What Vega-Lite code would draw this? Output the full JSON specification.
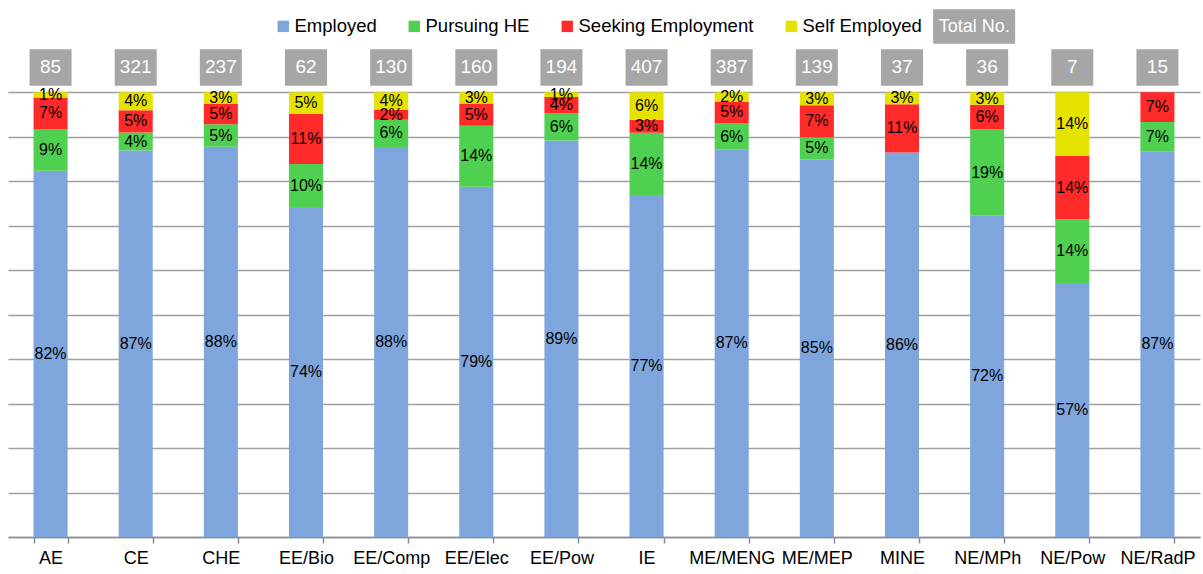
{
  "$schema": "https://vega.github.io/schema/vega-lite/v6.json",
  "width": 1192,
  "height": 498,
  "autosize": {"type": "none"},
  "padding": {"left": 8, "top": 39, "right": 3, "bottom": 37},
  "background": "white",
  "config": {"view": {"stroke": null}, "font": "Liberation Sans"},
  "datasets": {
    "rows": [
      {"program": "AE", "status": "Employed", "count": 70, "pct": 0.82},
      {"program": "AE", "status": "Pursuing HE", "count": 8, "pct": 0.09},
      {"program": "AE", "status": "Seeking Employment", "count": 6, "pct": 0.07},
      {"program": "AE", "status": "Self Employed", "count": 1, "pct": 0.01},
      {"program": "CE", "status": "Employed", "count": 279, "pct": 0.87},
      {"program": "CE", "status": "Pursuing HE", "count": 13, "pct": 0.04},
      {"program": "CE", "status": "Seeking Employment", "count": 16, "pct": 0.05},
      {"program": "CE", "status": "Self Employed", "count": 13, "pct": 0.04},
      {"program": "CHE", "status": "Employed", "count": 208, "pct": 0.88},
      {"program": "CHE", "status": "Pursuing HE", "count": 12, "pct": 0.05},
      {"program": "CHE", "status": "Seeking Employment", "count": 11, "pct": 0.05},
      {"program": "CHE", "status": "Self Employed", "count": 6, "pct": 0.03},
      {"program": "EE/Bio", "status": "Employed", "count": 46, "pct": 0.74},
      {"program": "EE/Bio", "status": "Pursuing HE", "count": 6, "pct": 0.10},
      {"program": "EE/Bio", "status": "Seeking Employment", "count": 7, "pct": 0.11},
      {"program": "EE/Bio", "status": "Self Employed", "count": 3, "pct": 0.05},
      {"program": "EE/Comp", "status": "Employed", "count": 114, "pct": 0.88},
      {"program": "EE/Comp", "status": "Pursuing HE", "count": 8, "pct": 0.06},
      {"program": "EE/Comp", "status": "Seeking Employment", "count": 3, "pct": 0.02},
      {"program": "EE/Comp", "status": "Self Employed", "count": 5, "pct": 0.04},
      {"program": "EE/Elec", "status": "Employed", "count": 126, "pct": 0.79},
      {"program": "EE/Elec", "status": "Pursuing HE", "count": 22, "pct": 0.14},
      {"program": "EE/Elec", "status": "Seeking Employment", "count": 8, "pct": 0.05},
      {"program": "EE/Elec", "status": "Self Employed", "count": 4, "pct": 0.03},
      {"program": "EE/Pow", "status": "Employed", "count": 173, "pct": 0.89},
      {"program": "EE/Pow", "status": "Pursuing HE", "count": 12, "pct": 0.06},
      {"program": "EE/Pow", "status": "Seeking Employment", "count": 7, "pct": 0.04},
      {"program": "EE/Pow", "status": "Self Employed", "count": 2, "pct": 0.01},
      {"program": "IE", "status": "Employed", "count": 313, "pct": 0.77},
      {"program": "IE", "status": "Pursuing HE", "count": 57, "pct": 0.14},
      {"program": "IE", "status": "Seeking Employment", "count": 12, "pct": 0.03},
      {"program": "IE", "status": "Self Employed", "count": 25, "pct": 0.06},
      {"program": "ME/MENG", "status": "Employed", "count": 337, "pct": 0.87},
      {"program": "ME/MENG", "status": "Pursuing HE", "count": 23, "pct": 0.06},
      {"program": "ME/MENG", "status": "Seeking Employment", "count": 19, "pct": 0.05},
      {"program": "ME/MENG", "status": "Self Employed", "count": 8, "pct": 0.02},
      {"program": "ME/MEP", "status": "Employed", "count": 118, "pct": 0.85},
      {"program": "ME/MEP", "status": "Pursuing HE", "count": 7, "pct": 0.05},
      {"program": "ME/MEP", "status": "Seeking Employment", "count": 10, "pct": 0.07},
      {"program": "ME/MEP", "status": "Self Employed", "count": 4, "pct": 0.03},
      {"program": "MINE", "status": "Employed", "count": 32, "pct": 0.86},
      {"program": "MINE", "status": "Seeking Employment", "count": 4, "pct": 0.11},
      {"program": "MINE", "status": "Self Employed", "count": 1, "pct": 0.03},
      {"program": "NE/MPh", "status": "Employed", "count": 26, "pct": 0.72},
      {"program": "NE/MPh", "status": "Pursuing HE", "count": 7, "pct": 0.19},
      {"program": "NE/MPh", "status": "Seeking Employment", "count": 2, "pct": 0.06},
      {"program": "NE/MPh", "status": "Self Employed", "count": 1, "pct": 0.03},
      {"program": "NE/Pow", "status": "Employed", "count": 4, "pct": 0.57},
      {"program": "NE/Pow", "status": "Pursuing HE", "count": 1, "pct": 0.14},
      {"program": "NE/Pow", "status": "Seeking Employment", "count": 1, "pct": 0.14},
      {"program": "NE/Pow", "status": "Self Employed", "count": 1, "pct": 0.14},
      {"program": "NE/RadP", "status": "Employed", "count": 13, "pct": 0.87},
      {"program": "NE/RadP", "status": "Pursuing HE", "count": 1, "pct": 0.07},
      {"program": "NE/RadP", "status": "Seeking Employment", "count": 1, "pct": 0.07}
    ],
    "totals": [
      {"program": "AE", "total": 85},
      {"program": "CE", "total": 321},
      {"program": "CHE", "total": 237},
      {"program": "EE/Bio", "total": 62},
      {"program": "EE/Comp", "total": 130},
      {"program": "EE/Elec", "total": 160},
      {"program": "EE/Pow", "total": 194},
      {"program": "IE", "total": 407},
      {"program": "ME/MENG", "total": 387},
      {"program": "ME/MEP", "total": 139},
      {"program": "MINE", "total": 37},
      {"program": "NE/MPh", "total": 36},
      {"program": "NE/Pow", "total": 7},
      {"program": "NE/RadP", "total": 15}
    ],
    "legendbox": [{"label": "Total No."}]
  },
  "encoding": {
    "x": {
      "field": "program",
      "type": "nominal",
      "sort": null,
      "scale": {"paddingInner": 0.6, "paddingOuter": 0.3},
      "axis": {
        "title": null,
        "labelAngle": 0,
        "labelFontSize": 18,
        "labelFont": "Liberation Sans",
        "labelColor": "#000000",
        "labelPadding": 6,
        "domainColor": "#8c8c8c",
        "domainWidth": 1.5,
        "tickColor": "#8c8c8c",
        "tickWidth": 1.5,
        "tickSize": 6,
        "tickBand": "extent",
        "grid": false
      }
    }
  },
  "layer": [
    {
      "data": {"name": "rows"},
      "transform": [
        {"stack": "count", "groupby": ["program"], "sort": [{"field": "status", "order": "ascending"}], "offset": "normalize", "as": ["y0", "y1"]}
      ],
      "mark": {"type": "bar"},
      "encoding": {
        "y": {
          "field": "y0",
          "type": "quantitative",
          "scale": {"domain": [0, 1.12], "nice": false, "zero": true},
          "axis": {
            "title": null,
            "values": [0, 0.1, 0.2, 0.3, 0.4, 0.5, 0.6, 0.7, 0.8, 0.9, 1.0],
            "labels": false,
            "ticks": false,
            "domain": false,
            "grid": true,
            "gridColor": "#a0a0a0",
            "gridWidth": 1.5
          }
        },
        "y2": {"field": "y1"},
        "color": {
          "field": "status",
          "type": "nominal",
          "scale": {
            "domain": ["Employed", "Pursuing HE", "Seeking Employment", "Self Employed"],
            "range": ["#7ea6dc", "#50d050", "#ff2a2a", "#e6e200"]
          },
          "legend": {
            "title": null,
            "orient": "none",
            "direction": "horizontal",
            "legendX": 266,
            "legendY": -22,
            "symbolType": "square",
            "symbolSize": 130,
            "symbolStrokeWidth": 0,
            "labelFontSize": 18.5,
            "labelFont": "Liberation Sans",
            "labelColor": "#000000",
            "labelLimit": 400,
            "labelOffset": 2,
            "columnPadding": 28,
            "padding": 0
          }
        }
      }
    },
    {
      "data": {"name": "rows"},
      "transform": [
        {"stack": "count", "groupby": ["program"], "sort": [{"field": "status", "order": "ascending"}], "offset": "normalize", "as": ["y0", "y1"]},
        {"calculate": "(datum.y0 + datum.y1) / 2", "as": "ymid"}
      ],
      "mark": {"type": "text", "font": "Liberation Sans", "fontSize": 16, "color": "#000000", "baseline": "middle", "align": "center"},
      "encoding": {
        "y": {"field": "ymid", "type": "quantitative"},
        "text": {"field": "pct", "type": "quantitative", "format": ".0%"}
      }
    },
    {
      "data": {"name": "totals"},
      "mark": {"type": "bar", "color": "#a6a6a6", "size": 42},
      "encoding": {
        "y": {"datum": 1.015},
        "y2": {"datum": 1.097}
      }
    },
    {
      "data": {"name": "totals"},
      "mark": {"type": "text", "font": "Liberation Sans", "fontSize": 19, "color": "#ffffff", "baseline": "middle", "align": "center"},
      "encoding": {
        "y": {"datum": 1.056},
        "text": {"field": "total", "type": "quantitative"}
      }
    },
    {
      "data": {"name": "legendbox"},
      "mark": {"type": "bar", "color": "#a6a6a6", "size": 82, "xOffset": -13},
      "encoding": {
        "x": {"datum": "NE/MPh"},
        "y": {"datum": 1.1094},
        "y2": {"datum": 1.1868}
      }
    },
    {
      "data": {"name": "legendbox"},
      "mark": {"type": "text", "font": "Liberation Sans", "fontSize": 18, "color": "#ffffff", "baseline": "middle", "align": "center", "dx": -13},
      "encoding": {
        "x": {"datum": "NE/MPh"},
        "y": {"datum": 1.148},
        "text": {"field": "label"}
      }
    }
  ]
}
